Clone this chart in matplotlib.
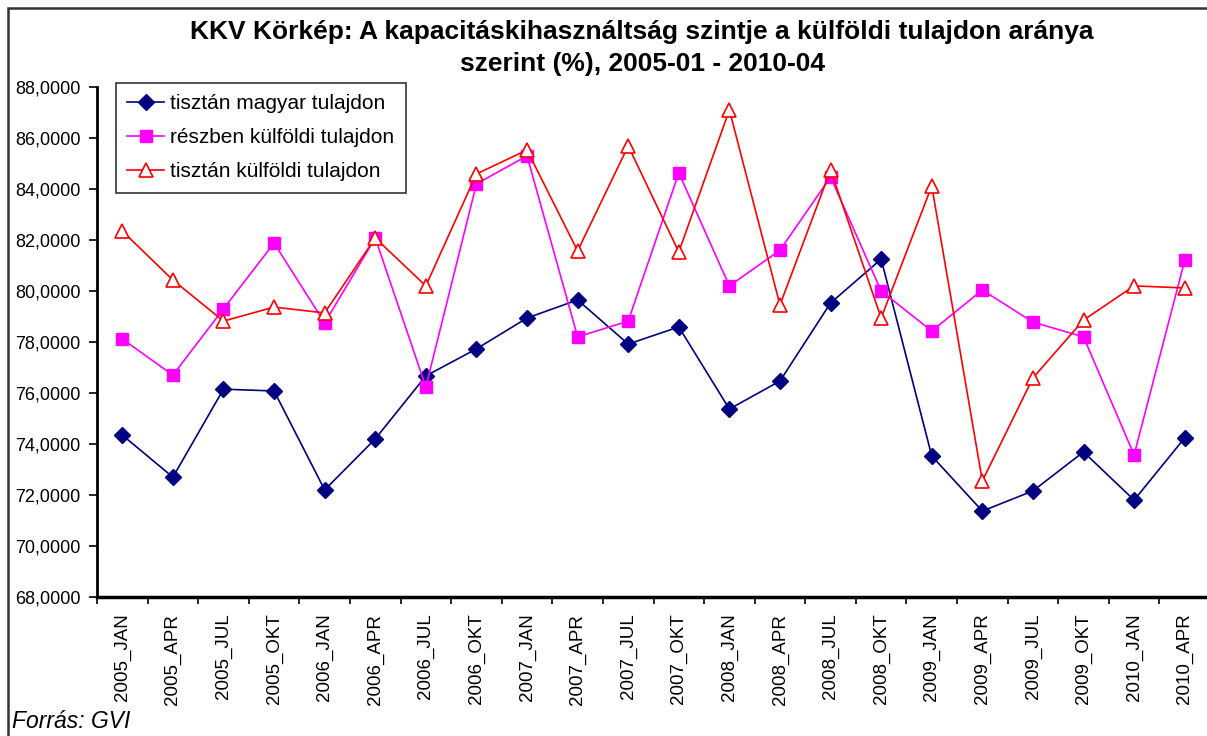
import numpy as np
import matplotlib.pyplot as plt
from matplotlib.patches import Rectangle

periods = ["2005_JAN", "2005_APR", "2005_JUL", "2005_OKT", "2006_JAN", "2006_APR",
           "2006_JUL", "2006_OKT", "2007_JAN", "2007_APR", "2007_JUL", "2007_OKT",
           "2008_JAN", "2008_APR", "2008_JUL", "2008_OKT", "2009_JAN", "2009_APR",
           "2009_JUL", "2009_OKT", "2010_JAN", "2010_APR"]

magyar = [74.35, 72.70, 76.15, 76.08, 72.20, 74.20, 76.67, 77.73, 78.94, 79.65, 77.92,
          78.59, 75.37, 76.47, 79.53, 81.25, 73.53, 71.37, 72.16, 73.69, 71.80, 74.24]
reszben = [78.12, 76.70, 79.30, 81.88, 78.75, 82.08, 76.24, 84.20, 85.30, 78.20, 78.82,
           84.63, 80.20, 81.60, 84.47, 80.00, 78.43, 80.04, 78.78, 78.20, 73.57, 81.20]
kulfoldi = [82.35, 80.43, 78.82, 79.37, 79.14, 82.08, 80.20, 84.59, 85.53, 81.57, 85.69,
            81.53, 87.10, 79.45, 84.75, 78.94, 84.12, 72.55, 76.59, 78.86, 80.20, 80.12]

plt.rcParams['font.family'] = ['Liberation Sans', 'DejaVu Sans']

fig = plt.figure(figsize=(12.07, 7.36), dpi=100)
ax = fig.add_axes([97/1207, 139/736, 1113/1207, 510/736])

x = np.arange(len(periods))
ax.plot(x, magyar, color='#000080', lw=1.2, marker='D', ms=8,
        label='tisztán magyar tulajdon')
ax.plot(x, reszben, color='#FF00FF', lw=1.2, marker='s', ms=9,
        label='részben külföldi tulajdon')
ax.plot(x, kulfoldi, color='#FF0000', lw=1.2, marker='^', ms=10, mfc='white',
        mec='#FF0000', mew=1.2, label='tisztán külföldi tulajdon')

ax.set_ylim(68, 88)
ax.set_yticks(np.arange(68, 89, 2))
ax.set_yticklabels([f"{v:.4f}".replace('.', ',') for v in np.arange(68, 89, 2)],
                   fontsize=13)
ax.set_xlim(-0.5, len(periods) - 0.5)
ax.set_xticks(x)
ax.set_xticklabels(periods, rotation=90, fontsize=13.5)
ax.set_xticks(np.arange(-0.5, len(periods), 1), minor=True)
ax.tick_params(axis='x', which='major', length=0, pad=12)
ax.tick_params(axis='x', which='minor', length=5, width=1.2, direction='out')
ax.tick_params(axis='y', length=6, width=1.2, direction='out', pad=6)
for s in ['top', 'right']:
    ax.spines[s].set_visible(False)
ax.spines['left'].set_linewidth(2)
ax.spines['bottom'].set_linewidth(2.5)

leg = ax.legend(loc='upper left', bbox_to_anchor=(19/1113, 1.008), borderaxespad=0,
                fontsize=15, frameon=True, fancybox=False, edgecolor='black',
                handlelength=1.75, handletextpad=0.3, labelspacing=0.72, borderpad=0.55)
leg.get_frame().set_linewidth(1.2)

fig.text(0.532, 1 - 48/736, "KKV Körkép: A kapacitáskihasználtság szintje a külföldi tulajdon aránya\nszerint (%), 2005-01 - 2010-04",
         ha='center', va='center', fontsize=19, fontweight='bold', linespacing=1.4)
fig.text(12/1207, 1 - 721/736, "Forrás: GVI", ha='left', va='center', fontsize=16.5,
         style='italic')

fig.patches.append(Rectangle((8/1207, -0.01), 1.0, 1 - 8/736 + 0.01,
                             transform=fig.transFigure, fill=False,
                             edgecolor='#333333', lw=1.8))

fig.savefig('out.png', dpi=100)
